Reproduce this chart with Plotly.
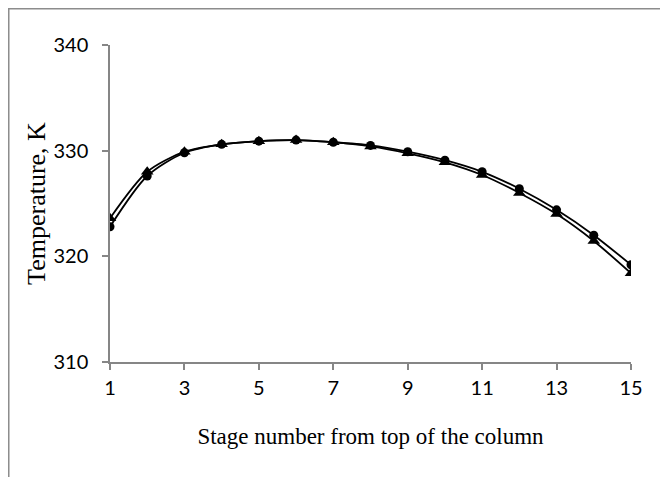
import plotly.graph_objects as go

stages = list(range(1, 16))
temp_circle = [322.8, 327.6, 329.8, 330.6, 330.9, 331.0, 330.8, 330.5, 329.9, 329.1, 328.0, 326.4, 324.4, 322.0, 319.2]
temp_triangle = [323.6, 328.0, 329.9, 330.6, 330.9, 331.0, 330.8, 330.4, 329.75, 328.9, 327.7, 326.0, 324.0, 321.45, 318.4]

x_ticks = [1, 3, 5, 7, 9, 11, 13, 15]
y_ticks = [310, 320, 330, 340]

fig = go.Figure()
fig.add_trace(go.Scatter(
    x=stages, y=temp_circle, mode="lines+markers",
    line=dict(color="black", width=1.8, shape="spline", smoothing=0.8),
    marker=dict(symbol="circle", size=9, color="black"),
    showlegend=False,
))
fig.add_trace(go.Scatter(
    x=stages, y=temp_triangle, mode="lines+markers",
    line=dict(color="black", width=1.8, shape="spline", smoothing=0.8),
    marker=dict(symbol="triangle-up", size=11, color="black"),
    showlegend=False,
))

axis_color = "#868686"
tick_font = dict(family="Lato, Open Sans, sans-serif", size=20, color="black")
title_font_family = "Liberation Serif, Times New Roman, serif"
fig.update_layout(
    width=668, height=477,
    margin=dict(l=102, r=45, t=37, b=123),
    paper_bgcolor="white", plot_bgcolor="white",
    xaxis=dict(
        range=[1, 15], tickvals=x_ticks, ticktext=[str(v) for v in x_ticks],
        showgrid=False, zeroline=False, showline=True, linecolor=axis_color, linewidth=1.5,
        ticks="outside", ticklen=6, tickcolor=axis_color, tickwidth=1.5,
        tickfont=tick_font, ticklabelstandoff=1,
        title=dict(text="Stage number from top of the column",
                   font=dict(family=title_font_family, size=23, color="black"),
                   standoff=30),
    ),
    yaxis=dict(
        range=[310, 340], tickvals=y_ticks,
        showgrid=False, zeroline=False, showline=True, linecolor=axis_color, linewidth=1.5,
        ticks="outside", ticklen=6, tickcolor=axis_color, tickwidth=1.5,
        tickfont=tick_font, ticklabelstandoff=10,
        title=dict(text="Temperature, K",
                   font=dict(family=title_font_family, size=26, color="black"),
                   standoff=0),
    ),
    shapes=[dict(type="rect", xref="paper", yref="paper",
                 x0=-0.1943, x1=1.1, y0=-0.4, y1=1.1144,
                 line=dict(color="#8c8c8c", width=1.5), layer="below")],
)

fig.write_html("out.html")
